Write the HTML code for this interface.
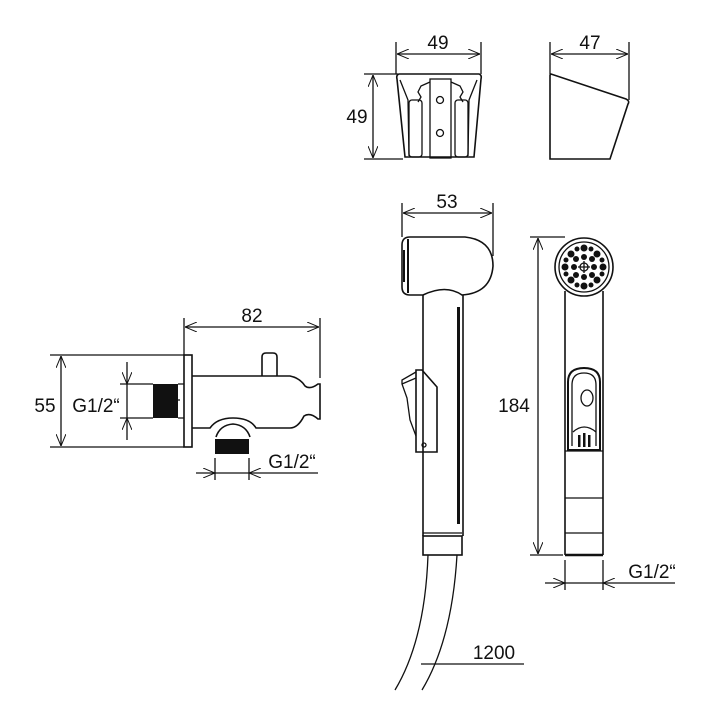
<!DOCTYPE html>
<html><head><meta charset="utf-8"><style>
html,body{margin:0;padding:0;background:#fff}
svg{display:block}
text{font-family:"Liberation Sans",Arial,sans-serif;font-size:19px;fill:#111}
</style></head><body>
<svg width="711" height="720" viewBox="0 0 711 720" xmlns="http://www.w3.org/2000/svg">
<defs>
<marker id="a" viewBox="0 0 12 10" refX="12" refY="5" markerWidth="12" markerHeight="10" orient="auto-start-reverse" markerUnits="userSpaceOnUse">
<path d="M0,0 L12,5 L0,10" fill="none" stroke="#111" stroke-width="1"/></marker>
</defs>
<g fill="#111">
<rect x="153" y="384" width="25" height="34"/>
<rect x="215" y="439" width="34" height="15"/>
</g>
<g stroke="#111" stroke-width="1.3" fill="none">
<!-- holder front -->
<line x1="396" y1="42" x2="396" y2="74"/><line x1="481" y1="42" x2="481" y2="74"/>
<line x1="397" y1="54" x2="480" y2="54" marker-start="url(#a)" marker-end="url(#a)"/>
<line x1="364" y1="74" x2="398" y2="74"/><line x1="364" y1="159" x2="403" y2="159"/>
<line x1="373" y1="75" x2="373" y2="158" marker-start="url(#a)" marker-end="url(#a)"/>
<path d="M399,74 L479,74 Q482,75 481,79 L474,157 L405,157 L397,79 Q396,75 399,74 Z" stroke-width="1.6"/>
<path d="M400,80 L408,100 L409,156 M477,80 L469,100 L468,156"/>
<rect x="409" y="100" width="13" height="57" rx="3"/>
<rect x="455" y="100" width="13" height="57" rx="3"/>
<rect x="430" y="79" width="21" height="79"/>
<path d="M430,82 L421,86 L418,92 L421,97 L418,102 M451,82 L460,86 L463,92 L460,97 L463,102"/>
<circle cx="440" cy="100" r="3.5"/><circle cx="440" cy="133" r="3.5"/>
<!-- holder side -->
<line x1="550" y1="42" x2="550" y2="74"/><line x1="629" y1="42" x2="629" y2="100"/>
<line x1="551" y1="54" x2="628" y2="54" marker-start="url(#a)" marker-end="url(#a)"/>
<path d="M550,75 L551,74 L626,99 Q630,101 628,104 L610,159 L550,159 Z" stroke-width="1.6"/>
<!-- valve -->
<line x1="184" y1="318" x2="184" y2="355"/><line x1="320" y1="318" x2="320" y2="378"/>
<line x1="185" y1="327" x2="319" y2="327" marker-start="url(#a)" marker-end="url(#a)"/>
<line x1="50" y1="355" x2="184" y2="355"/><line x1="50" y1="447" x2="184" y2="447"/>
<line x1="61" y1="356" x2="61" y2="446" marker-start="url(#a)" marker-end="url(#a)"/>
<line x1="120" y1="384" x2="153" y2="384"/><line x1="120" y1="418" x2="153" y2="418"/>
<line x1="127" y1="362" x2="127" y2="384" marker-end="url(#a)"/><line x1="127" y1="384" x2="127" y2="418"/>
<line x1="127" y1="440" x2="127" y2="418" marker-end="url(#a)"/>
<rect x="184" y="355" width="8" height="92" stroke-width="1.6"/>
<path d="M192,376 L290,376 Q300,378 305,386 Q310,390 318,384 L320,384 L320,419 L318,419 Q310,412 304,416 Q298,428 290,428 L256,428 Q250,418 233,418 Q217,418 210,428 L192,428" stroke-width="1.6"/>
<path d="M262,376 L262,357 Q262,353 266,353 L273,353 Q277,353 277,357 L277,376" stroke-width="1.6"/>
<path d="M216,437 Q220,425 233,424 Q246,425 250,437" stroke-width="1.6"/>
<path d="M178,384 L184,384 M178,418 L184,418 M178,400 L180,400"/>
<line x1="215" y1="458" x2="215" y2="480"/><line x1="249" y1="458" x2="249" y2="480"/>
<line x1="196" y1="473" x2="215" y2="473" marker-end="url(#a)"/><line x1="215" y1="473" x2="249" y2="473"/>
<line x1="318" y1="473" x2="249" y2="473" marker-end="url(#a)"/>
<!-- shower side -->
<line x1="402" y1="203" x2="402" y2="237"/><line x1="493" y1="203" x2="493" y2="256"/>
<line x1="403" y1="213" x2="492" y2="213" marker-start="url(#a)" marker-end="url(#a)"/>
<path d="M410,237 L465,237 Q493,240 493,266 Q491,293 462,295 Q446,284 423,295 L410,295 Q402,295 402,287 L402,245 Q402,237 410,237 Z" stroke-width="1.6"/>
<path d="M408,239 L408,293 M404,250 L404,282" stroke-width="2"/>
<path d="M423,295 L423,536 M463,295 L463,536" stroke-width="1.6"/>
<line x1="458.5" y1="307" x2="458.5" y2="524" stroke-width="3"/>
<rect x="423" y="536" width="39" height="19" stroke-width="1.6"/><line x1="423" y1="533" x2="462" y2="533"/>
<path d="M416,370 L422,370 L437,387 L437,452 L416,452 Z" stroke-width="1.6"/>
<path d="M416,372 L402,380 L402,384 L407,398 L410,420 L416,436 M402,384 L416,378"/>
<circle cx="424" cy="445" r="2"/>
<!-- hose -->
<path d="M428,555 Q425,640 395,690"/><path d="M457,555 Q452,640 422,690"/>
<line x1="421" y1="664" x2="524" y2="664"/>
<!-- shower front -->
<line x1="530" y1="237" x2="565" y2="237"/><line x1="530" y1="555" x2="563" y2="555"/>
<line x1="538" y1="238" x2="538" y2="554" marker-start="url(#a)" marker-end="url(#a)"/>
<circle cx="584" cy="267" r="29" stroke-width="1.6"/>
<circle cx="584" cy="267" r="25"/>
<path d="M565,291 L565,555 M603,291 L603,555" stroke-width="1.6"/>
<line x1="565" y1="498" x2="603" y2="498"/><line x1="565" y1="533" x2="603" y2="533"/>
<line x1="565" y1="555" x2="603" y2="555" stroke-width="2.5"/>
<path d="M568,450 L568,382 Q568,368 584,368 Q600,368 600,382 L600,450 Z" stroke-width="2"/>
<path d="M572,446 L572,385 Q572,373 584,373 Q596,373 596,385 L596,446"/>
<ellipse cx="587" cy="398" rx="6" ry="8"/>
<path d="M573,432 Q584,422 596,432"/>
<line x1="565" y1="451" x2="603" y2="451"/>
<line x1="565" y1="560" x2="565" y2="590"/><line x1="603" y1="560" x2="603" y2="590"/>
<line x1="545" y1="583" x2="565" y2="583" marker-end="url(#a)"/><line x1="565" y1="583" x2="603" y2="583"/>
<line x1="675" y1="583" x2="603" y2="583" marker-end="url(#a)"/>
<circle cx="584" cy="267" r="4"/>
<path d="M578,267 L590,267 M584,261 L584,273"/>
</g>
<g fill="#111">
<circle cx="584" cy="248" r="3.5"/><circle cx="584" cy="286" r="3.5"/>
<circle cx="565" cy="267" r="3.5"/><circle cx="603" cy="267" r="3.5"/>
<circle cx="571" cy="254" r="3.5"/><circle cx="597" cy="254" r="3.5"/>
<circle cx="571" cy="280" r="3.5"/><circle cx="597" cy="280" r="3.5"/>
<circle cx="576" cy="259" r="3"/><circle cx="592" cy="259" r="3"/>
<circle cx="576" cy="275" r="3"/><circle cx="592" cy="275" r="3"/>
<circle cx="574" cy="267" r="3"/><circle cx="594" cy="267" r="3"/>
<circle cx="584" cy="257" r="3"/><circle cx="584" cy="277" r="3"/>
<circle cx="577" cy="249" r="2.5"/><circle cx="591" cy="249" r="2.5"/>
<circle cx="577" cy="285" r="2.5"/><circle cx="591" cy="285" r="2.5"/>
<circle cx="566" cy="260" r="2.5"/><circle cx="602" cy="260" r="2.5"/>
<circle cx="566" cy="274" r="2.5"/><circle cx="602" cy="274" r="2.5"/>
<rect x="578" y="435" width="2.5" height="12"/><rect x="583" y="433" width="2.5" height="14"/><rect x="588" y="435" width="2.5" height="12"/>
</g>
<text x="438" y="49" text-anchor="middle">49</text>
<text x="357" y="123" text-anchor="middle">49</text>
<text x="590" y="49" text-anchor="middle">47</text>
<text x="252" y="322" text-anchor="middle">82</text>
<text x="45" y="412" text-anchor="middle">55</text>
<text x="96" y="412" text-anchor="middle">G1/2“</text>
<text x="292" y="468" text-anchor="middle">G1/2“</text>
<text x="447" y="208" text-anchor="middle">53</text>
<text x="514" y="412" text-anchor="middle">184</text>
<text x="652" y="578" text-anchor="middle">G1/2“</text>
<text x="494" y="659" text-anchor="middle">1200</text>
</svg>
</body></html>
